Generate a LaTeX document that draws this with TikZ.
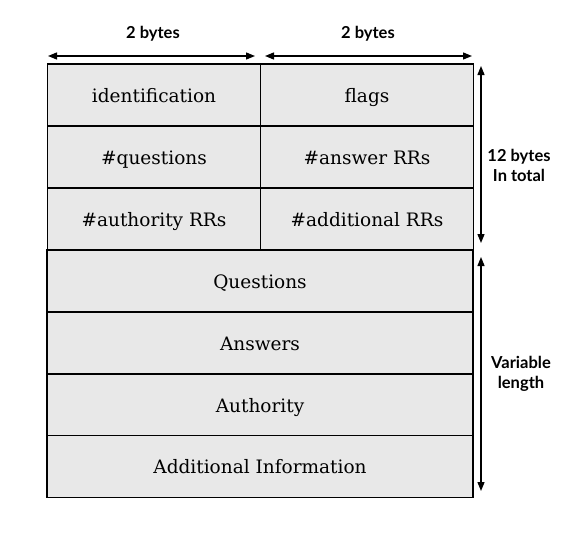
\documentclass[tikz,border=0pt]{standalone}
\usepackage{fontspec}
\setmainfont{DejaVu Serif}
\newfontfamily\labelfont{Lato}
\usetikzlibrary{arrows.meta}
\definecolor{cellgray}{RGB}{232,232,232}
\begin{document}
\begin{tikzpicture}[x=1pt,y=-1pt,
  cell/.style={draw=black, fill=cellgray, line width=1.3pt, minimum height=62pt,
    inner sep=0pt, text height=14pt, text depth=0pt,
    font=\fontsize{18.5}{22}\selectfont},
  half/.style={cell, minimum width=213pt},
  full/.style={cell, minimum width=426pt},
  tip/.tip={Triangle[length=9pt,width=7pt]},
  dim/.style={line width=1.3pt, tip-tip},
  lbl/.style={font=\labelfont\bfseries\fontsize{16.5}{20}\selectfont, align=center}]
\useasboundingbox (0,0) rectangle (588,536);

% fixed-size header: three rows of two 16-bit fields
\node[half] (ident) at (154,95)  {identification};
\node[half] (flags) at (367,95)  {flags};
\node[half] (nq)    at (154,157) {\#questions};
\node[half] (nans)  at (367,157) {\#answer RRs};
\node[half] (nauth) at (154,219) {\#authority RRs};
\node[half] (nadd)  at (367,219) {\#additional RRs};

% variable-length sections
\node[full] (quest) at (260,281)   {Questions};
\node[full] (ans)   at (260,343)   {Answers};
\node[full] (auth)  at (260,405)   {Authority};
\node[full] (addl)  at (260,466.5) {Additional Information};

% dimension arrows
\coordinate (w1a) at (48,56);
\coordinate (w1b) at (255,56);
\coordinate (w2a) at (265,56);
\coordinate (w2b) at (472,56);
\coordinate (h1a) at (481,66);
\coordinate (h1b) at (481,243);
\coordinate (h2a) at (481,257);
\coordinate (h2b) at (481,491);
\draw[dim] (w1a) -- (w1b);
\draw[dim] (w2a) -- (w2b);
\draw[dim] (h1a) -- (h1b);
\draw[dim] (h2a) -- (h2b);

\node[lbl] (lw1) at (153,34) {2 bytes};
\node[lbl] (lw2) at (368,34) {2 bytes};
\node[lbl] (lh1) at (519,165) {12 bytes\\In total};
\node[lbl] (lh2) at (521,374) {Variable\\length};
\end{tikzpicture}
\end{document}
